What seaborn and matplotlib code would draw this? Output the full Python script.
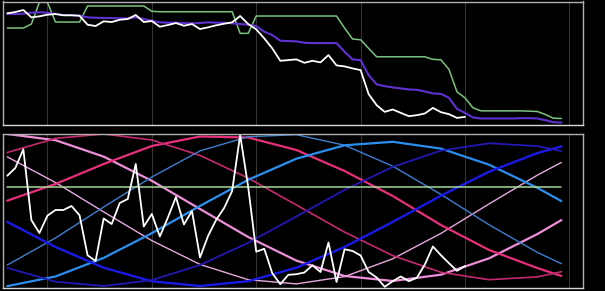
import numpy as np
import pandas as pd
import matplotlib
matplotlib.use("Agg")
import matplotlib.pyplot as plt
import seaborn as sns

sns.set_theme(style="dark", rc={"axes.facecolor": "black", "figure.facecolor": "black"})
plt.rcParams['font.family'] = ['DejaVu Sans']

# ---------------- top panel data ----------------
top_white = [110.7, 112, 114, 106.7, 107.7, 109.3, 110, 108.7, 108.7, 108.3,
             99.3, 98, 102.7, 102, 104.3, 105, 109, 102, 103, 97.3,
             99, 101, 98.3, 100, 95, 96.7, 98.7, 100.3, 101.7, 108,
             100, 94.7, 85.7, 75.7, 63.3, 64, 64.7, 61.3, 63.3, 61.7,
             69, 58.7, 57.7, 55.7, 54, 30, 19, 12.3, 14.7, 11.3,
             8, 9, 10.7, 16.3, 12, 10, 6.3, 7.3]
top_purple = [110, 110, 110.3, 111.3, 111.7, 111.3, 110, 109, 109, 108.3,
              106.7, 106.3, 106, 106, 105.7, 105.7, 106.7, 105, 103.3, 101.7,
              101.3, 101.3, 101, 100.7, 101, 101.7, 101.3, 101.3, 100.7, 100,
              99.3, 98, 92.3, 89, 83.3, 83, 82.7, 81.3, 81, 81,
              81, 81, 72.3, 64.7, 64, 49, 39.7, 38, 36.7, 35.7,
              34.7, 34.3, 32.7, 30.7, 30.3, 26.3, 15.3, 11.3, 6.7, 5.7,
              5.7, 5.7, 5.7, 5.7, 6, 6, 5.7, 4, 2, 1.7]
top_green = [96, 96, 96, 100, 121.7, 121.7, 102, 102, 102, 102,
             118, 118, 118, 118, 118, 118, 118, 118, 112.7, 112.3,
             112.3, 112.3, 112.3, 112.3, 112.3, 112.3, 112.3, 112.3, 112.3, 90.7,
             90.7, 108, 108, 108, 108, 108, 108, 108, 108, 108,
             108, 108, 96, 85, 84.3, 75.7, 67.3, 67.3, 67.3, 67.3,
             67.3, 67.3, 67.3, 64.7, 64.3, 54.7, 32.3, 26.3, 16.3, 13.3,
             13.3, 13.3, 13.3, 13.3, 13.3, 13, 12.7, 9.7, 6, 5.7]

# ---------------- bottom panel data ----------------
bottom_white = [112.3, 120, 138.7, 68, 55, 72.3, 78, 78, 82, 72.7,
                32.7, 27, 69.5, 64, 85, 89, 124, 61.5, 74, 51.5,
                70.5, 91, 63.5, 77, 30.5, 52, 68, 80, 97, 153,
                101, 36.3, 39.2, 14.8, 3.8, 13.2, 13.8, 15.5, 22.8, 16,
                45.5, 6, 38.7, 37, 32.5, 16, 10.5, 1.2, 6.8, 11.5,
                6.8, 10.2, 23.5, 41.5, 32.8, 24.8, 17.2, 22]

curve_x = [0, 6, 12, 18, 24, 30, 36, 42, 48, 54, 60, 66, 69]
violet = [154.0, 147.8, 131.4, 107.2, 79.0, 51.0, 27.4, 12.0, 7.0, 13.3, 29.7, 53.9, 67.9]
plum = [131.1, 105.5, 76.1, 47.4, 23.6, 8.3, 4.1, 11.4, 29.2, 54.6, 84.1, 112.8, 125.6]
crimson_a = [87.3, 104, 124, 142, 151.5, 150.5, 138, 117, 92, 63, 38, 20, 12]
crimson_b = [135.5, 149.6, 154, 148.0, 132.6, 109.9, 83.0, 55.9, 32.4, 15.7, 8.3, 11.1, 16.3]
steel = [23, 50, 81, 111, 137.1, 151.3, 153.3, 142.8, 121.8, 93.6, 63.2, 35.6, 24.3]
dodger = [1.9, 11.5, 30.1, 54.8, 82.1, 108.2, 129.3, 142.7, 146.2, 139.4, 123.3, 100.2, 86.9]
blue_a = [66.1, 41.0, 20.3, 6.7, 2.0, 6.8, 20.3, 41.1, 66.1, 92.3, 116.3, 134.9, 141.5]
blue_b = [20.1, 6.3, 2.0, 7.9, 23.0, 45.2, 71.5, 98.1, 121.1, 137.4, 144.7, 141.9, 136.9]
green_level = [100.7] * len(curve_x)

grid_ticks = [5, 18, 31, 44, 57, 70]

W, H = 605, 291
fig = plt.figure(figsize=(W / 100, H / 100), dpi=100)
fig.patch.set_facecolor("black")
ax1 = fig.add_axes([2.7 / W, (H - 125.2) / H, 580.6 / W, 123.7 / H])
ax2 = fig.add_axes([2.7 / W, (H - 288) / H, 580.6 / W, 154 / H])

# top panel
sns.lineplot(x=list(range(len(top_green))), y=top_green, ax=ax1, color="#7cc47c", linewidth=1.1)
sns.lineplot(x=list(range(len(top_purple))), y=top_purple, ax=ax1, color="#6030d0", linewidth=1.5)
sns.lineplot(x=list(range(len(top_white))), y=top_white, ax=ax1, color="white", linewidth=1.3)
ax1.set_ylim(-1, 122.5)

# bottom panel
series = [
    (violet, "#ee8fd9", 1.6),
    (plum, "#e6a8de", 1.0),
    (crimson_a, "#e8307a", 1.6),
    (crimson_b, "#c42a6e", 1.2),
    (steel, "#3d7fd0", 1.0),
    (dodger, "#2b8ff0", 1.6),
    (blue_a, "#1a1ae6", 1.7),
    (blue_b, "#2418b4", 1.3),
    (green_level, "#a6d79a", 1.1),
]
for vals, col, lw in series:
    sns.lineplot(x=curve_x, y=vals, ax=ax2, color=col, linewidth=lw)
sns.lineplot(x=list(range(len(bottom_white))), y=bottom_white, ax=ax2, color="white", linewidth=1.3)
ax2.set_ylim(0, 154)

for ax in (ax1, ax2):
    ax.set_facecolor("black")
    ax.set_xlim(-0.57, 71.73)
    ax.set_xticks(grid_ticks)
    ax.set_xticklabels([])
    ax.set_yticks([])
    ax.set_xlabel("")
    ax.set_ylabel("")
    ax.tick_params(length=0)
    ax.grid(axis="x", color="#333333", linewidth=0.8)
    ax.grid(axis="y", visible=False)
    for name, sp in ax.spines.items():
        sp.set_visible(True)
        sp.set_color("#b0b0b0")
        sp.set_linewidth(1.0)
    ax.spines["bottom"].set_color("#d8d8d8")

fig.savefig("out.png", dpi=100, facecolor="black")
